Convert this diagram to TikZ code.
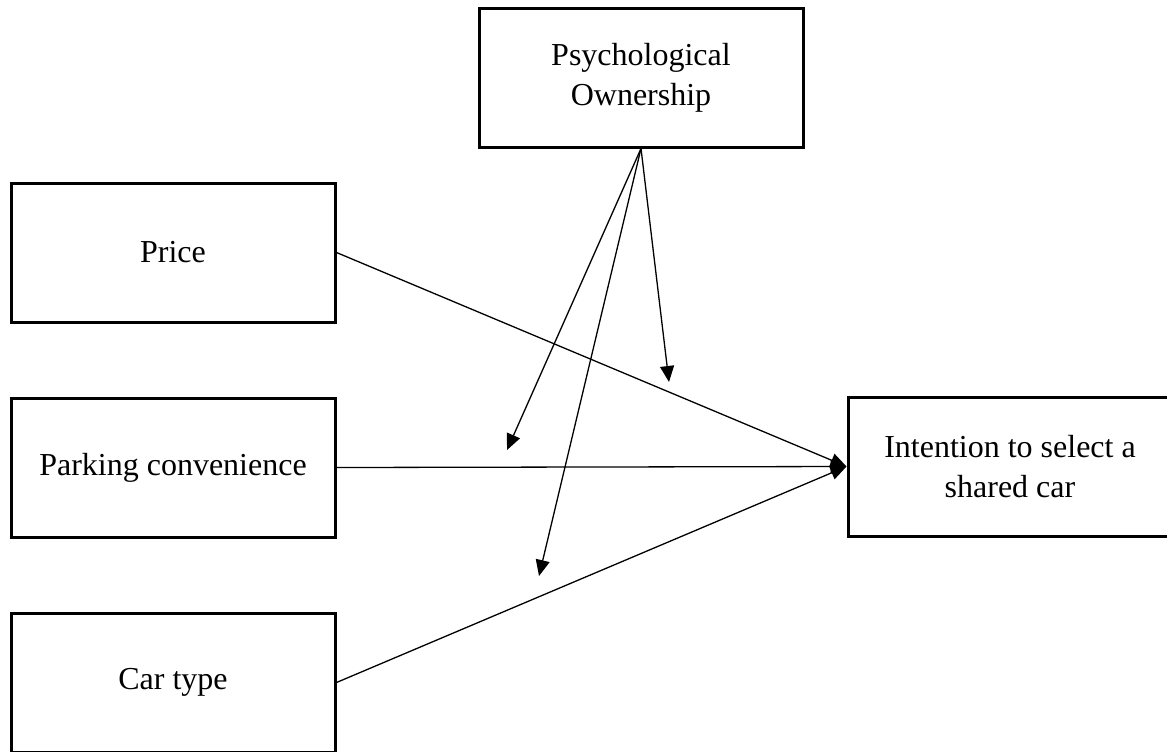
\documentclass[tikz,border=0pt]{standalone}
\usepackage{fontspec}
\setmainfont{Liberation Serif}
\usetikzlibrary{arrows.meta}

\begin{document}
\begin{tikzpicture}[x=0.5pt, y=-0.5pt,
    factor/.style={draw, line width=1.5pt, minimum width=162pt, minimum height=69.5pt,
                   align=center, inner sep=0pt, font=\fontsize{16}{20}\selectfont},
    link/.style={line width=0.65pt, -{Triangle[length=8pt,width=7pt]}}]
    \useasboundingbox (0,0) rectangle (1167,751);
    \clip (0,0) rectangle (1167,751);
    % boxes
    \node[factor] (price) at (173,252.5) {Price};
    \node[factor] (park) at (173,467.5) {Parking convenience};
    \node[factor] (cartype) at (173,682.5) {Car type};
    \node[factor] (psych) at (641,77.5) {Psychological\\Ownership};
    \node[factor] (intent) at (1010,466.5) {Intention to select a\\shared car};
    % free ends of the moderating arrows
    \coordinate (modpark) at (507,450);
    \coordinate (modcar) at (539,576);
    \coordinate (modprice) at (669,382);
    % direct effects
    \draw[link] (price.east) -- (intent.west);
    \draw[link] (park.east) -- (intent.west);
    \draw[link] (cartype.east) -- (intent.west);
    % moderation
    \draw[link] (psych.south) -- (modpark);
    \draw[link] (psych.south) -- (modcar);
    \draw[link] (psych.south) -- (modprice);
\end{tikzpicture}
\end{document}
